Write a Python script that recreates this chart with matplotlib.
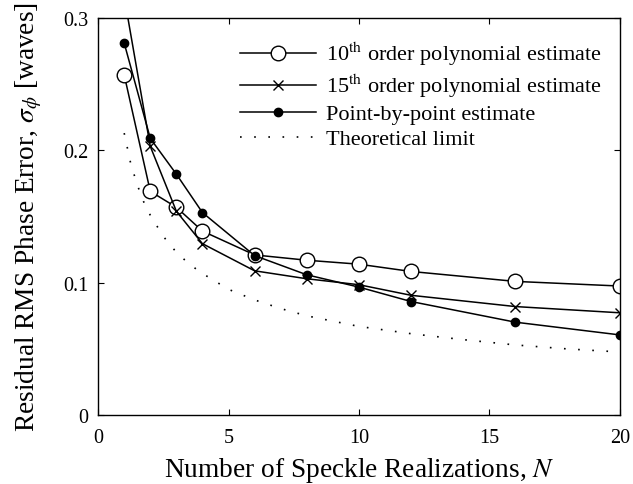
import matplotlib
matplotlib.use("Agg")
import matplotlib.pyplot as plt

plt.rcParams['font.family'] = 'Liberation Serif'
plt.rcParams['mathtext.fontset'] = 'stix'

# data
N = [1, 2, 3, 4, 6, 8, 10, 12, 16, 20]
poly10 = [0.257, 0.169, 0.157, 0.139, 0.121, 0.117, 0.114, 0.1085, 0.101, 0.0975]
poly15 = [0.316, 0.203, 0.154, 0.1295, 0.109, 0.103, 0.0985, 0.0905, 0.082, 0.0773]
pointwise = [0.281, 0.209, 0.182, 0.153, 0.1205, 0.106, 0.0967, 0.0858, 0.0702, 0.0606]

N_theory = [1, 1.25, 1.5, 1.75, 2, 2.5, 3, 3.5, 4, 5, 6, 7, 8, 10, 12, 14, 16, 18, 20]
theory = [0.213, 0.190, 0.174, 0.161, 0.151, 0.135, 0.123, 0.114, 0.107, 0.095,
          0.087, 0.0805, 0.075, 0.067, 0.0615, 0.057, 0.053, 0.050, 0.0477]

fig = plt.figure(figsize=(6.33, 4.85), dpi=100)
ax = fig.add_axes([0.155, 0.142, 0.824, 0.819])

ax.plot(N, poly10, '-o', color='black', lw=1.1, ms=10.5, mfc='white', mew=1.0,
        label=r'10$^{\rm th}$ order polynomial estimate')
ax.plot(N, poly15, '-x', color='black', lw=1.1, ms=7, mew=1.0,
        label=r'15$^{\rm th}$ order polynomial estimate')
ax.plot(N, pointwise, '-o', color='black', lw=1.1, ms=6,
        label='Point-by-point estimate')
ax.plot(N_theory, theory, color='black', lw=1.2, linestyle=(0, (1, 7.5)),
        label='Theoretical limit')

ax.set_xlim(0, 20)
ax.set_ylim(0, 0.3)
ax.set_xticks([0, 5, 10, 15, 20])
ax.set_yticks([0, 0.1, 0.2, 0.3])
ax.set_yticklabels(['0', '0.1', '0.2', '0.3'])
ax.tick_params(direction='in', top=True, right=True, labelsize=14.5, length=4.5)
ax.tick_params(axis='x', pad=9)
ax.tick_params(axis='y', pad=7)
for s in ax.spines.values():
    s.set_linewidth(1.0)

ax.set_xlabel(r'Number of Speckle Realizations, $N$', fontsize=19.7, labelpad=6)
ax.set_ylabel(r'Residual RMS Phase Error, $\sigma_\phi$ [waves]', fontsize=19.7, labelpad=14)

ax.legend(loc='upper left', bbox_to_anchor=(0.255, 0.967), frameon=False,
          fontsize=16, handlelength=3.4, handletextpad=0.45, labelspacing=0.2,
          borderaxespad=0)

fig.savefig('out.png', dpi=100)
